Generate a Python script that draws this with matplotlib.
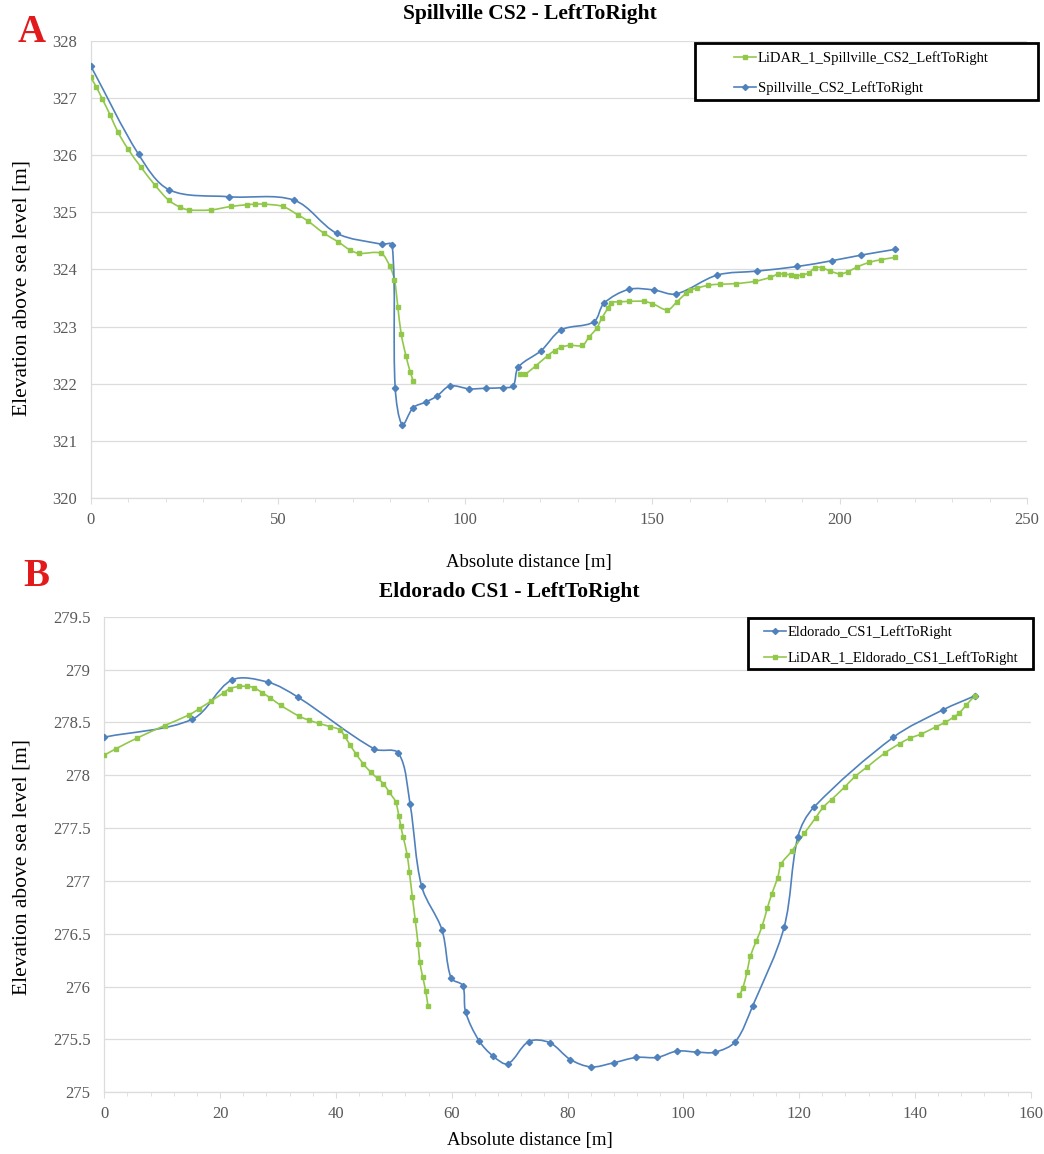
import numpy as np
import matplotlib
matplotlib.use("Agg")
import matplotlib.pyplot as plt
from matplotlib.path import Path
from matplotlib.patches import PathPatch, Rectangle
from matplotlib.lines import Line2D
from matplotlib.ticker import MultipleLocator

plt.rcParams['font.family'] = ['Liberation Serif', 'DejaVu Serif']

BLUE = '#4f81bd'
GREEN = '#92c84a'
GRID = '#dcdcdc'
TICK = '#595959'

# ---- Panel A: Spillville CS2 ----
survey_a_x = [0, 12.8, 21.0, 36.9, 54.3, 65.7, 77.7, 80.5, 81.3, 83.2, 86.1, 89.5,
              92.4, 95.9, 101.1, 105.5, 110.2, 112.8, 114.2, 120.3, 125.6, 134.3,
              137.1, 143.7, 150.3, 156.3, 167.3, 178.0, 188.7, 197.8, 205.8, 214.8]
survey_a_y = [327.56, 326.01, 325.39, 325.27, 325.21, 324.63, 324.44, 324.43, 321.93,
              321.28, 321.58, 321.68, 321.78, 321.96, 321.91, 321.92, 321.93, 321.96,
              322.29, 322.58, 322.94, 323.08, 323.41, 323.65, 323.64, 323.57, 323.90,
              323.97, 324.05, 324.15, 324.25, 324.35]

lidar_a_x1 = [0, 1.5, 3.1, 5.2, 7.2, 9.9, 13.4, 17.2, 20.8, 23.8, 26.2, 32.1, 37.4,
              41.7, 43.9, 46.4, 51.3, 55.4, 57.9, 62.3, 66.1, 69.2, 71.6, 77.5, 79.9,
              81.1, 82.0, 82.9, 84.2, 85.3, 86.1]
lidar_a_y1 = [327.36, 327.19, 326.98, 326.70, 326.41, 326.11, 325.79, 325.47, 325.21,
              325.09, 325.04, 325.04, 325.10, 325.13, 325.14, 325.14, 325.10, 324.95,
              324.85, 324.63, 324.48, 324.34, 324.28, 324.28, 324.05, 323.82, 323.35,
              322.87, 322.48, 322.21, 322.05]
lidar_a_x2 = [114.6, 116.0, 118.8, 122.0, 123.9, 125.7, 127.9, 131.3, 133.0, 135.1,
              136.5, 138.1, 139.0, 141.1, 143.7, 147.7, 150.0, 154.0, 156.5, 158.9,
              160.1, 161.9, 164.7, 167.9, 172.2, 177.3, 181.5, 183.6, 185.0, 187.1,
              188.2, 189.9, 191.8, 193.4, 195.2, 197.4, 200.2, 202.2, 204.6, 207.8,
              211.1, 214.8]
lidar_a_y2 = [322.17, 322.17, 322.31, 322.49, 322.58, 322.64, 322.67, 322.67, 322.81,
              322.97, 323.15, 323.32, 323.42, 323.43, 323.44, 323.44, 323.40, 323.29,
              323.43, 323.58, 323.64, 323.67, 323.72, 323.74, 323.75, 323.79, 323.86,
              323.92, 323.92, 323.90, 323.89, 323.90, 323.94, 324.03, 324.03, 323.97,
              323.92, 323.96, 324.04, 324.12, 324.17, 324.21]

# ---- Panel B: Eldorado CS1 ----
survey_b_x = [0, 15.2, 22.0, 28.3, 33.4, 46.6, 50.8, 52.8, 54.8, 58.3, 59.9, 61.9,
              62.4, 64.7, 67.2, 69.7, 73.3, 76.9, 80.5, 84.1, 88.0, 91.9, 95.5, 98.9,
              102.4, 105.5, 109.0, 112.0, 117.4, 119.8, 122.6, 136.3, 144.9, 150.3]
survey_b_y = [278.36, 278.53, 278.90, 278.88, 278.74, 278.25, 278.21, 277.73, 276.95,
              276.54, 276.08, 276.01, 275.76, 275.49, 275.34, 275.27, 275.48, 275.47,
              275.31, 275.24, 275.28, 275.33, 275.33, 275.39, 275.38, 275.38, 275.48,
              275.82, 276.56, 277.42, 277.70, 278.36, 278.62, 278.75]

lidar_b_x1 = [0, 2.0, 5.6, 10.4, 14.6, 16.4, 18.4, 20.6, 21.7, 23.3, 24.6, 25.8, 27.3,
              28.7, 30.5, 33.6, 35.4, 37.1, 39.0, 40.7, 41.5, 42.4, 43.5, 44.7, 46.0,
              47.2, 48.2, 49.2, 50.3, 50.9, 51.2, 51.6, 52.3, 52.7, 53.2, 53.7, 54.2,
              54.5, 55.0, 55.5, 55.9]
lidar_b_y1 = [278.19, 278.25, 278.35, 278.47, 278.57, 278.63, 278.70, 278.78, 278.82,
              278.84, 278.84, 278.83, 278.78, 278.73, 278.66, 278.56, 278.52, 278.49,
              278.46, 278.43, 278.37, 278.29, 278.20, 278.11, 278.03, 277.97, 277.92,
              277.84, 277.75, 277.61, 277.52, 277.42, 277.25, 277.08, 276.85, 276.63,
              276.40, 276.23, 276.09, 275.96, 275.82]
lidar_b_x2 = [109.7, 110.3, 111.0, 111.6, 112.6, 113.6, 114.5, 115.3, 116.3, 116.9,
              118.7, 120.9, 122.9, 124.2, 125.6, 127.9, 129.7, 131.8, 134.8, 137.4,
              139.1, 141.1, 143.7, 145.2, 146.7, 147.7, 148.8, 150.3]
lidar_b_y2 = [275.92, 275.99, 276.14, 276.29, 276.43, 276.57, 276.74, 276.88, 277.03,
              277.16, 277.28, 277.45, 277.60, 277.70, 277.77, 277.89, 277.99, 278.08,
              278.21, 278.30, 278.35, 278.39, 278.46, 278.50, 278.55, 278.59, 278.66,
              278.75]


def smooth_path(ax, x, y):
    # smoothed line like Excel: cubic Bezier, tangent handles weighted by
    # on-screen segment lengths so short segments do not overshoot
    p = np.column_stack([x, y]).astype(float)
    n = len(p)
    seg = np.hypot(*np.diff(ax.transData.transform(p), axis=0).T)
    tang = np.empty_like(p)
    tang[0] = p[1] - p[0]
    tang[-1] = p[-1] - p[-2]
    tang[1:-1] = p[2:] - p[:-2]
    verts = [p[0]]
    codes = [Path.MOVETO]
    for i in range(n - 1):
        w1 = 1.0 if i == 0 else seg[i] / (seg[i - 1] + seg[i])
        w2 = 1.0 if i == n - 2 else seg[i] / (seg[i] + seg[i + 1])
        verts += [p[i] + tang[i] * w1 / 3.0, p[i + 1] - tang[i + 1] * w2 / 3.0, p[i + 1]]
        codes += [Path.CURVE4] * 3
    return Path(verts, codes)


def draw_series(ax, x, y, color, marker, ms):
    ax.add_patch(PathPatch(smooth_path(ax, x, y), fill=False, edgecolor=color, lw=1.2, zorder=3))
    ax.plot(x, y, ls='none', marker=marker, ms=ms, color=color, mec=color, zorder=4)


def style_axes(ax, xmin, xmax, xmaj, xmin_step, ymin, ymax, ymaj):
    ax.set_xlim(xmin, xmax)
    ax.set_ylim(ymin, ymax)
    ax.xaxis.set_major_locator(MultipleLocator(xmaj))
    ax.xaxis.set_minor_locator(MultipleLocator(xmin_step))
    ax.yaxis.set_major_locator(MultipleLocator(ymaj))
    ax.grid(axis='y', color=GRID, lw=0.9)
    ax.set_axisbelow(True)
    for s in ['top', 'right']:
        ax.spines[s].set_visible(False)
    for s in ['left', 'bottom']:
        ax.spines[s].set_color(GRID)
        ax.spines[s].set_linewidth(0.9)
    ax.tick_params(axis='x', which='both', colors=GRID, labelcolor=TICK, labelsize=12,
                   direction='out', pad=6)
    ax.tick_params(axis='x', which='major', length=4)
    ax.tick_params(axis='x', which='minor', length=3)
    ax.tick_params(axis='y', length=0, labelcolor=TICK, labelsize=12, pad=10)


def boxed_legend(handles, labels, x0, y0, x1, y1, text_x, top_y, spacing):
    # Excel-style legend: thick black frame with entries indented on the left
    fig.add_artist(Rectangle((x0 / W, 1 - y1 / H), (x1 - x0) / W, (y1 - y0) / H,
                             transform=fig.transFigure, fill=True, facecolor='white',
                             edgecolor='black', lw=2, zorder=5))
    leg = fig.legend(handles, labels, loc='upper left',
                     bbox_to_anchor=(text_x / W, 1 - top_y / H), fontsize=10.5,
                     frameon=False, handlelength=1.5, handletextpad=0.15,
                     borderpad=0, labelspacing=spacing, borderaxespad=0)
    leg.set_zorder(6)
    return leg


fig = plt.figure(figsize=(10.44, 11.54), dpi=100)
W, H = 1044.0, 1154.0

# Panel A
axA = fig.add_axes([90.7 / W, 1 - 498 / H, (1027 - 90.7) / W, (498 - 40.7) / H])
style_axes(axA, 0, 250, 50, 10, 320, 328, 1)
axA.yaxis.set_major_formatter(plt.FuncFormatter(lambda v, p: '%d' % v))
draw_series(axA, lidar_a_x1, lidar_a_y1, GREEN, 's', 3.2)
draw_series(axA, lidar_a_x2, lidar_a_y2, GREEN, 's', 3.2)
draw_series(axA, survey_a_x, survey_a_y, BLUE, 'D', 3.2)
hA = [Line2D([], [], color=GREEN, marker='s', ms=3, lw=1.2),
      Line2D([], [], color=BLUE, marker='D', ms=3, lw=1.2)]
boxed_legend(hA, ['LiDAR_1_Spillville_CS2_LeftToRight', 'Spillville_CS2_LeftToRight'],
             695, 43, 1038, 100, 734, 51, 1.1)

fig.text(530 / W, 1 - 14 / H, 'Spillville CS2 - LeftToRight', ha='center', va='center',
         fontsize=15.5, fontweight='bold')
fig.text(32 / W, 1 - 33 / H, 'A', ha='center', va='center', fontsize=28,
         fontweight='bold', color='#e31a1c')
fig.text(22 / W, 1 - 288 / H, 'Elevation above sea level [m]', rotation=90,
         ha='center', va='center', fontsize=15.5)
fig.text(529 / W, 1 - 563 / H, 'Absolute distance [m]', ha='center', va='center',
         fontsize=13.5)

# Panel B
axB = fig.add_axes([104.3 / W, 1 - 1092.3 / H, (1030.7 - 104.3) / W, (1092.3 - 616.7) / H])
style_axes(axB, 0, 160, 20, 4, 275, 279.5, 0.5)
axB.yaxis.set_major_formatter(plt.FuncFormatter(lambda v, p: ('%g' % v)))
draw_series(axB, survey_b_x, survey_b_y, BLUE, 'D', 3.2)
draw_series(axB, lidar_b_x1, lidar_b_y1, GREEN, 's', 3.2)
draw_series(axB, lidar_b_x2, lidar_b_y2, GREEN, 's', 3.2)
hB = [Line2D([], [], color=BLUE, marker='D', ms=3, lw=1.2),
      Line2D([], [], color=GREEN, marker='s', ms=3, lw=1.2)]
boxed_legend(hB, ['Eldorado_CS1_LeftToRight', 'LiDAR_1_Eldorado_CS1_LeftToRight'],
             748, 618, 1033, 669, 764, 625, 0.85)

fig.text(509 / W, 1 - 592 / H, 'Eldorado CS1 - LeftToRight', ha='center', va='center',
         fontsize=15.5, fontweight='bold')
fig.text(36 / W, 1 - 576 / H, 'B', ha='center', va='center', fontsize=28,
         fontweight='bold', color='#e31a1c')
fig.text(22 / W, 1 - 867 / H, 'Elevation above sea level [m]', rotation=90,
         ha='center', va='center', fontsize=15.5)
fig.text(530 / W, 1 - 1140 / H, 'Absolute distance [m]', ha='center', va='center',
         fontsize=13.5)

fig.savefig('out.png', dpi=100, facecolor='white')
